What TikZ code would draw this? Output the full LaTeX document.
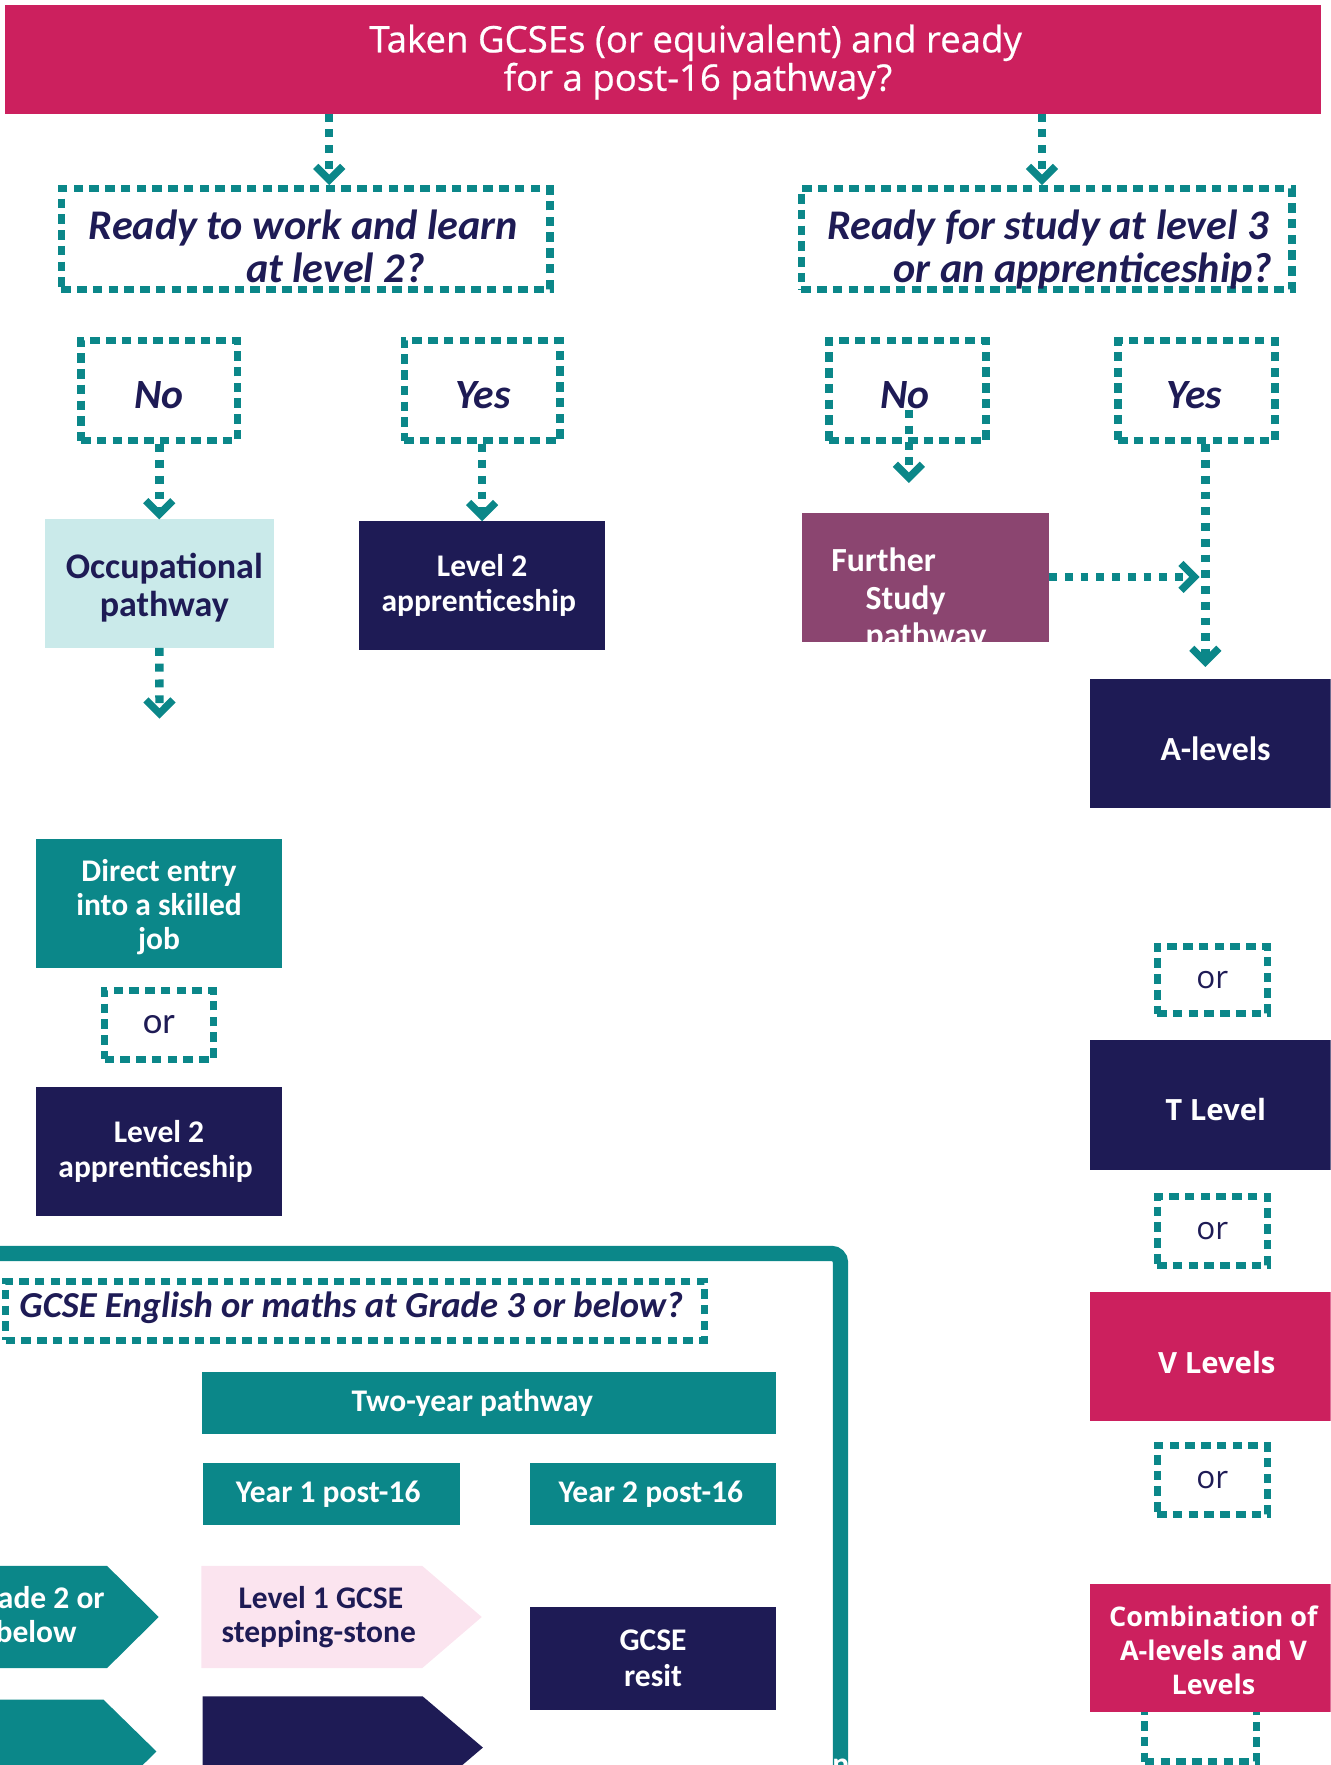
\documentclass[tikz,border=0pt]{standalone}
\usepackage{fontspec}
\setmainfont{Carlito}
\newfontfamily\osans{Open Sans}
\newfontfamily\osansm[FakeBold=0.6]{Open Sans}
\usetikzlibrary{arrows.meta}
\definecolor{mag}{RGB}{204,32,94}
\definecolor{tealc}{RGB}{11,135,137}
\definecolor{navy}{RGB}{30,27,85}
\definecolor{lcyan}{RGB}{202,234,234}
\definecolor{plum}{RGB}{139,69,112}
\definecolor{lpink}{RGB}{251,228,239}
\newcommand\fsz[2]{\fontsize{#1}{#2}\selectfont}
\tikzset{
  solidbox/.style={rectangle, inner sep=0pt, outer sep=0pt, align=center},
  dbox/.style={rectangle, draw=tealc, line width=6.5pt, dash pattern=on 8.5pt off 5.5pt, inner sep=0pt},
  conn/.style={draw=tealc, line width=7.5pt, dash pattern=on 7pt off 7pt,
    -{Straight Barb[length=12pt,width=24pt,line width=6.5pt]}},
  txt/.style={inner sep=0pt, outer sep=0pt},
  qtext/.style={txt, text=navy, font=\bfseries\itshape\fsz{37.5}{40}},
  ynfont/.style={text=navy, font=\bfseries\itshape\fsz{37}{40}},
  orl/.style={text=navy, font=\fsz{33}{36}},
  orr/.style={text=navy, font=\osans\fsz{28}{32}},
}
\begin{document}
\begin{tikzpicture}[x=1pt,y=-1pt]
\useasboundingbox (0,0) rectangle (1182,1568);
\clip (0,0) rectangle (1182,1568);

% top question
\node[solidbox, fill=mag, minimum width=1169, minimum height=96.5] (top) at (589,52.8) {};
\node[txt, text=white, font=\osansm\fsz{32.5}{34}, anchor=base] (toptxt1) at (618,46.5) {Taken GCSEs (or equivalent) and ready};
\node[txt, text=white, font=\osansm\fsz{32.5}{34}, anchor=base] (toptxt2) at (620,80.6) {for a post-16 pathway?};

% second level questions
\node[dbox, minimum width=434, minimum height=89.3] (lq) at (271.5,212.3) {};
\node[qtext, anchor=base west] (lqt1) at (79,212.7) {Ready to work and learn};
\node[qtext, anchor=base west] (lqt2) at (218.6,251) {at level 2?};
\node[dbox, minimum width=436, minimum height=89.3] (rq) at (929.8,212.3) {};
\node[qtext, anchor=base west] (rqt1) at (735,212.7) {Ready for study at level 3};
\node[qtext, anchor=base west] (rqt2) at (793.8,251) {or an apprenticeship?};

% yes / no
\node[dbox, minimum width=139, minimum height=88.8] (nol) at (141.5,347) {};
\node[dbox, minimum width=138.5, minimum height=88.8] (yesl) at (428.3,347) {};
\node[dbox, minimum width=139.4, minimum height=88.8] (nor) at (806.3,347) {};
\node[dbox, minimum width=139.6, minimum height=88.8] (yesr) at (1063,347) {};
\node[txt, ynfont] (nolt) at (141,351) {No};
\node[txt, ynfont] (yeslt) at (429,351) {Yes};
\node[txt, ynfont] (nort) at (804,351) {No};
\node[txt, ynfont] (yesrt) at (1061,351) {Yes};

% pathway boxes
\node[solidbox, fill=lcyan, minimum width=203, minimum height=114.3] (occ) at (141.6,518.5) {};
\node[txt, text=navy, font=\bfseries\fsz{32}{34}, align=center] (occt) at (146,522) {Occupational\\pathway};
\node[solidbox, fill=navy, text=white, font=\bfseries\fsz{28}{31}, minimum width=218.6, minimum height=114.4] (l2a) at (428.3,520.2) {Level 2\\apprenticeship\hspace*{6pt}};
\node[solidbox, fill=plum, minimum width=219, minimum height=114.7] (fs) at (822.4,513) {};
\begin{scope}
  \clip (fs.south west) rectangle (fs.north east);
  \node[txt, text=white, font=\bfseries\fsz{30}{33}, anchor=base west] (fst1) at (738.5,508) {Further};
  \node[txt, text=white, font=\bfseries\fsz{30}{33}, anchor=base west] (fst2) at (769,541.3) {Study};
  \node[txt, text=white, font=\bfseries\fsz{30}{33}, anchor=base west] (fst3) at (769,574.6) {pathway};
\end{scope}

% right column
\node[solidbox, fill=navy, minimum width=219, minimum height=114] (alev) at (1078.2,660.5) {};
\node[txt, text=white, font=\bfseries\fsz{30}{33}] (alevt) at (1080,665) {A-levels};
\node[dbox, orr, minimum width=98, minimum height=59.5] (or1) at (1077,870.7) {or};
\node[solidbox, fill=navy, minimum width=219, minimum height=115] (tlev) at (1078.2,981.5) {};
\node[txt, text=white, font=\osans\bfseries\fsz{26}{30}] (tlevt) at (1080,986) {T Level};
\node[dbox, orr, minimum width=98, minimum height=61] (or2) at (1077,1093.5) {or};
\node[solidbox, fill=mag, minimum width=219, minimum height=114] (vlev) at (1078.2,1205) {};
\node[txt, text=white, font=\osans\bfseries\fsz{26}{30}] (vlevt) at (1081,1210.5) {V Levels};
\node[dbox, orr, minimum width=98, minimum height=61.5] (or3) at (1077,1314.8) {or};
\node[dbox, minimum width=99, minimum height=80] (orhid) at (1066.5,1525) {};
\node[solidbox, fill=mag, minimum width=219, minimum height=113.6] (comb) at (1078.2,1463.8) {};
\node[txt, text=white, font=\osans\bfseries\fsz{24}{30.5}, align=center] (combt) at (1078,1466) {Combination of\\A-levels and V\\Levels};

% left column
\node[solidbox, fill=tealc, minimum width=218.7, minimum height=114.4] (direct) at (141.3,802.8) {};
\node[txt, text=white, font=\bfseries\fsz{28}{30}, align=center] (directt) at (141.3,806) {Direct entry\\into a skilled\\job};
\node[dbox, orl, minimum width=96.7, minimum height=61] (orleft) at (141.3,910.5) {or};
\node[solidbox, fill=navy, text=white, font=\bfseries\fsz{28}{31}, minimum width=218.7, minimum height=114.5] (l2b) at (141.3,1023.2) {Level 2\\apprenticeship\hspace*{6pt}};

% frame
\draw[tealc, line width=13.5pt, rounded corners=8pt] (-20,1113.5) -- (746.7,1113.5) -- (746.7,1620);
\node[txt, text=white, font=\bfseries\fsz{28}{30}, anchor=north] (nfrag) at (747,1562.5) {n};

% GCSE question and two-year pathway
\node[dbox, minimum width=621, minimum height=52.4] (gq) at (315.5,1164.5) {};
\node[txt, text=navy, font=\bfseries\itshape\fsz{32.5}{36}, anchor=base west] (gqt) at (17.3,1170.6) {GCSE English or maths at Grade 3 or below?};
\node[solidbox, fill=tealc, text=white, font=\bfseries\fsz{28}{31}, minimum width=510, minimum height=55.5] (two) at (434.5,1246.2) {\hspace*{-30pt}Two-year pathway};
\node[solidbox, fill=tealc, text=white, font=\bfseries\fsz{28}{31}, minimum width=228.3, minimum height=55.5] (y1) at (294.6,1327.2) {\hspace*{-6pt}Year 1 post-16};
\node[solidbox, fill=tealc, text=white, font=\bfseries\fsz{28}{31}, minimum width=218.5, minimum height=55.5] (y2) at (580.2,1327.2) {\hspace*{-4pt}Year 2 post-16};
\node[solidbox, fill=navy, text=white, font=\bfseries\fsz{28}{32}, minimum width=218.5, minimum height=91] (resit) at (580.2,1473.5) {GCSE\\resit};

% chevrons
\fill[tealc] (-20,1391) -- (95,1391) -- (141,1436.5) -- (95,1482) -- (-20,1482) -- cycle;
\node[txt, text=white, font=\bfseries\fsz{28}{30}, anchor=base] (g2a) at (32,1429.3) {Grade 2 or};
\node[txt, text=white, font=\bfseries\fsz{28}{30}, anchor=base] (g2b) at (32,1459) {below};
\fill[lpink] (179,1391) -- (375,1391) -- (428,1436.5) -- (375,1482) -- (179,1482) -- cycle;
\node[txt, text=navy, font=\bfseries\fsz{28}{30}, anchor=base west] (l1a) at (212,1429.3) {Level 1 GCSE};
\node[txt, text=navy, font=\bfseries\fsz{28}{30}, anchor=base west] (l1b) at (196.8,1459) {stepping-stone};
\fill[tealc] (-20,1510) -- (92,1510) -- (139,1556) -- (92,1602) -- (-20,1602) -- cycle;
\fill[navy] (180,1507) -- (375.5,1507) -- (429,1552.5) -- (375.5,1598) -- (180,1598) -- cycle;

% connectors
\coordinate (a1s) at (292.5,101);
\coordinate (a2s) at (925.7,101);
\draw[conn] (a1s) -- (a1s |- lq.north);
\draw[conn] (a2s) -- (a2s |- rq.north);
\draw[conn] (nol.south) -- (nol.south |- occ.north);
\draw[conn] (yesl.south) -- (yesl.south |- l2a.north);
\coordinate (a5s) at (807.4,364.4);
\coordinate (a5e) at (807.4,429);
\draw[conn] (a5s) -- (a5e);
\coordinate (a6e) at (1070.8,592.5);
\draw[conn] (yesr.south -| a6e) -- (a6e);
\coordinate (a7e) at (1065.7,512.5);
\draw[conn] (fs.east |- a7e) -- (a7e);
\coordinate (a8e) at (141.7,638.4);
\draw[conn] (occ.south) -- (a8e);
\end{tikzpicture}
\end{document}
